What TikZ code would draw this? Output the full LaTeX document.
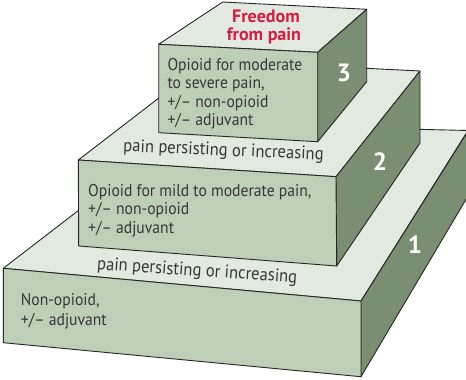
\documentclass[tikz,border=0pt]{standalone}
\usepackage{fontspec}
\setmainfont[FakeStretch=0.92]{PT Sans}
\newfontfamily\headfont{PT Sans}
\definecolor{frontc}{RGB}{189,207,182}
\definecolor{topc}{RGB}{226,233,224}
\definecolor{sidec}{RGB}{122,143,114}
\definecolor{txtc}{RGB}{55,55,55}
\definecolor{redc}{RGB}{214,28,64}
\tikzset{
  face/.style={draw=black!85, line width=0.9pt, line join=round},
  front/.style={face, fill=frontc},
  topf/.style={face, fill=topc},
  side/.style={face, fill=sidec},
  body/.style={inner sep=0pt, anchor=base west, text=txtc, font=\fontsize{17}{18.5}\selectfont},
  persist/.style={body, font=\fontsize{18}{19}\selectfont},
  num/.style={inner sep=0pt, text=white, font=\headfont\bfseries\fontsize{25}{25}\selectfont},
  head/.style={inner sep=0pt, anchor=base, text=redc, font=\headfont\bfseries\fontsize{18}{19}\selectfont},
}
\begin{document}
\begin{tikzpicture}[x=1pt,y=-1pt]
\useasboundingbox (0,0) rectangle (466,380);
\fill[white] (0,0) rectangle (466,380);
\begin{scope}
\clip (0,0) rectangle (466,380);
% level 1
\draw[topf] (3.3,268.3) -- (190.8,123.9) -- (468,130.5) -- (361,301) -- cycle;
\draw[side] (361,301) -- (468,131) -- (468,196) -- (361,376.7) -- cycle;
\draw[front] (3.3,268.3) -- (361,301) -- (361,376.7) -- (3.3,342.7) -- cycle;
% level 2
\draw[topf] (78.3,160) -- (207.7,60.4) -- (420,71) -- (336,176.7) -- cycle;
\draw[side] (336,176.7) -- (420,71) -- (420,143) -- (336.7,266) -- cycle;
\draw[front] (78.3,160) -- (336,176.7) -- (336.7,266) -- (78.7,246) -- cycle;
% level 3
\draw[topf] (158.7,44.3) -- (222.7,2) -- (366.7,9.3) -- (317.7,52.3) -- cycle;
\draw[side] (317.7,52.3) -- (366.7,9.3) -- (366.7,81.7) -- (317.7,141.7) -- cycle;
\draw[front] (158.7,44.3) -- (317.7,52.3) -- (317.7,141.7) -- (158.7,132.7) -- cycle;
\end{scope}
% top label
\node[head] (fr1) at (266,22.7) {Freedom};
\node[head] (fr2) at (264,40) {from pain};
% step 3 text
\node[body] (a1) at (167.3,70) {Opioid for moderate};
\node[body] (a2) at (167.3,88.5) {to severe pain,};
\node[body] (a3) at (167.3,107) {+/– non-opioid};
\node[body] (a4) at (167.3,125.5) {+/– adjuvant};
% upper persisting
\node[persist, rotate=-2.4] (p1) at (123,151.5) {pain persisting or increasing};
% step 2 text
\node[body] (b1) at (88,196) {Opioid for mild to moderate pain,};
\node[body] (b2) at (88,214.5) {+/– non-opioid};
\node[body] (b3) at (88,233) {+/– adjuvant};
% lower persisting
\node[persist, rotate=-3.8] (p2) at (96.7,269.5) {pain persisting or increasing};
% step 1 text
\node[body] (c1) at (20.7,305) {Non-opioid,};
\node[body] (c2) at (20.7,325) {+/– adjuvant};
% numbers
\node[num] (n3) at (344,72.5) {3};
\node[num] (n2) at (380,161.7) {2};
\node[num] (n1) at (415,245) {1};
\end{tikzpicture}
\end{document}
